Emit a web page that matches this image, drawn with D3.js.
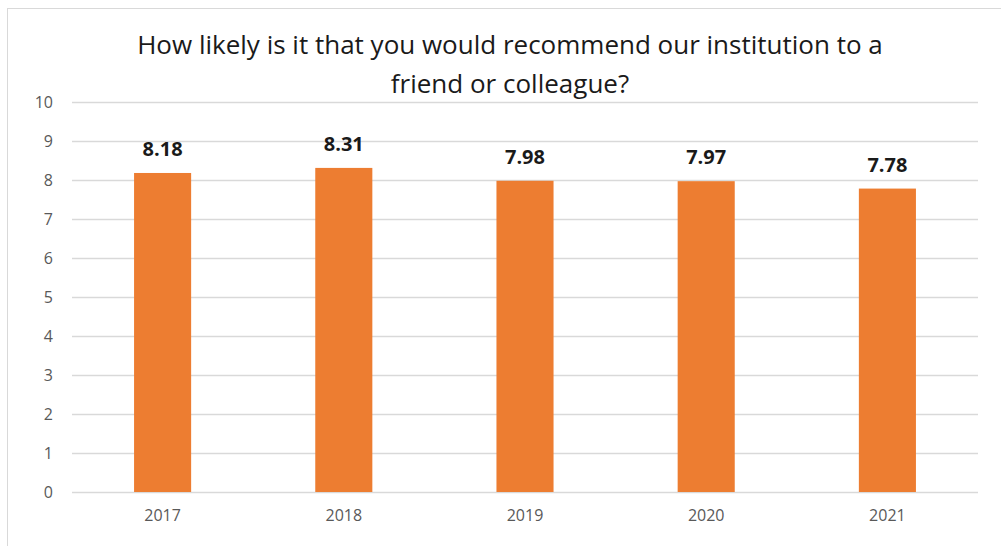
<!DOCTYPE html>
<html>
<head>
<meta charset="utf-8">
<script src="https://cdn.jsdelivr.net/npm/d3@7"></script>
<style>
  html, body { margin: 0; padding: 0; background: #fff; }
  svg { display: block; }
  svg text { font-family: "Open Sans", "Noto Sans", sans-serif; }
</style>
</head>
<body>
<svg id="chart" width="1001" height="546"></svg>
<script>
// Chart data
const years = ["2017", "2018", "2019", "2020", "2021"];
const scores = [8.18, 8.31, 7.98, 7.97, 7.78];
const yTicks = [0, 1, 2, 3, 4, 5, 6, 7, 8, 9, 10];
const titleLines = ["How likely is it that you would recommend our institution to a", "friend or colleague?"];

const svg = d3.select("#chart");
const W = 1001, H = 546;
const plot = { left: 72, right: 978, top: 102, bottom: 492 };

// Outer frame
svg.append("rect")
  .attr("x", 7.5).attr("y", 8.5)
  .attr("width", W + 10).attr("height", H + 10)
  .attr("fill", "#fff").attr("stroke", "#d9d9d9").attr("stroke-width", 1);

const x = d3.scaleBand()
  .domain(years)
  .range([plot.left, plot.right])
  .paddingInner(0.685)
  .paddingOuter(0.3425);

const y = d3.scaleLinear()
  .domain([0, 10])
  .range([plot.bottom, plot.top]);

// Gridlines and y labels
const yAxis = d3.axisLeft(y)
  .tickValues(yTicks)
  .tickSize(-(plot.right - plot.left))
  .tickPadding(19)
  .tickFormat(d3.format("d"));

const gy = svg.append("g")
  .attr("transform", `translate(${plot.left},0)`)
  .call(yAxis);
gy.select(".domain").remove();
gy.selectAll(".tick line").attr("stroke", "#d9d9d9").attr("stroke-width", 1.3);
gy.selectAll(".tick text")
  .attr("fill", "#595959")
  .style("font-size", "16px");

// x labels
const xAxis = d3.axisBottom(x).tickSize(0).tickPadding(18);
const gx = svg.append("g")
  .attr("transform", `translate(0,${plot.bottom})`)
  .call(xAxis);
gx.select(".domain").remove();
gx.selectAll(".tick text")
  .attr("fill", "#595959")
  .style("font-size", "16px");

// Bars
svg.append("g").selectAll("rect")
  .data(years)
  .join("rect")
  .attr("x", d => x(d))
  .attr("width", x.bandwidth())
  .attr("y", (d, i) => y(scores[i]))
  .attr("height", (d, i) => y(0) - y(scores[i]))
  .attr("fill", "#ed7d31");

// Value labels
svg.append("g").selectAll("text")
  .data(years)
  .join("text")
  .attr("x", d => x(d) + x.bandwidth() / 2)
  .attr("y", (d, i) => y(scores[i]) - 17)
  .attr("text-anchor", "middle")
  .attr("fill", "#1a1a1a")
  .style("font-size", "20px")
  .style("font-weight", "bold")
  .text((d, i) => scores[i].toFixed(2));

// Title
svg.append("g").selectAll("text")
  .data(titleLines)
  .join("text")
  .attr("x", 510)
  .attr("y", (d, i) => 54 + i * 39)
  .attr("text-anchor", "middle")
  .attr("fill", "#1a1a1a")
  .style("font-size", "26px")
  .text(d => d);
</script>
</body>
</html>
